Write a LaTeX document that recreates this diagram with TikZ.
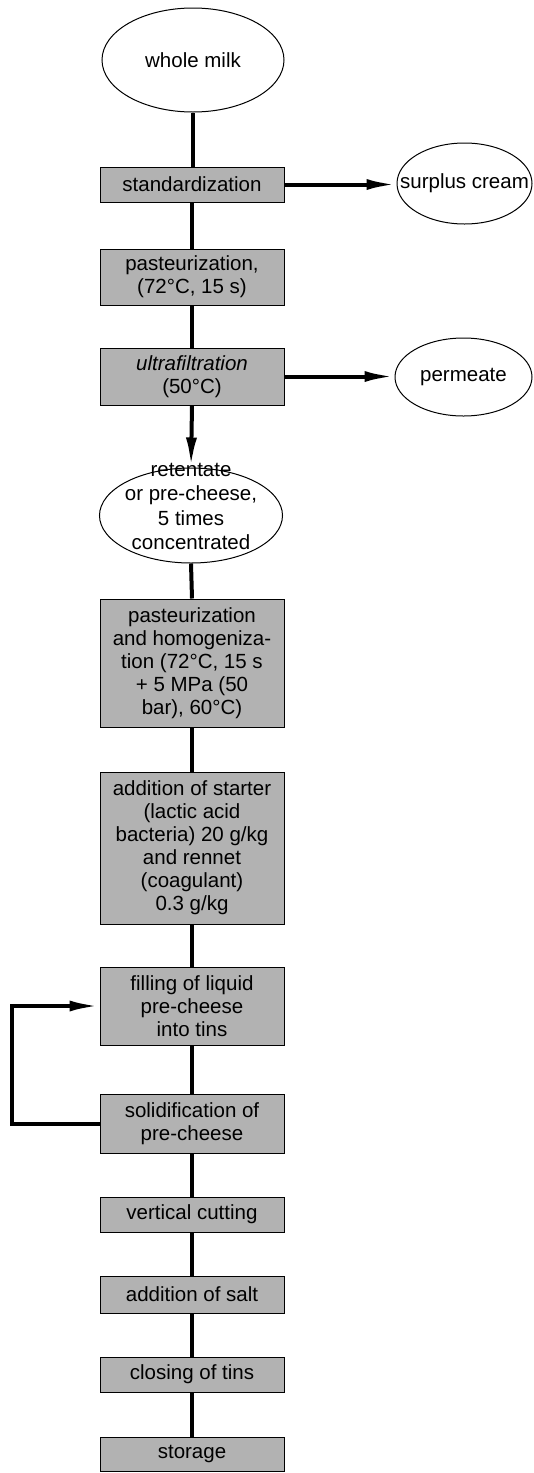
\documentclass[tikz,border=0pt]{standalone}
\usepackage{fontspec}
\setmainfont{Liberation Sans}
\usetikzlibrary{shapes.geometric,arrows.meta}
\begin{document}
\begin{tikzpicture}[x=1pt,y=-1pt,
  every node/.style={font=\fontsize{20.5}{23}\selectfont},
  stepbox/.style={draw, line width=1pt, fill=black!30, minimum width=184pt, inner sep=0pt, align=center},
  term/.style={ellipse, draw, line width=1pt, fill=white, inner sep=0pt},
  flow/.style={line width=4pt},
  flowarrow/.style={flow, -{Latex[length=30pt,width=11pt]}},
]
\useasboundingbox (0,0) rectangle (533,1473);

% main line of process steps
\node[term, minimum width=182pt, minimum height=104pt, label={center:whole milk}] (milk) at (193,60) {};
\node[stepbox, minimum height=35pt] (std) at (192,184.5) {standardization};
\node[term, minimum width=135pt, minimum height=81pt, label={center:surplus cream}] (cream) at (464.5,183.5) {};
\node[stepbox, minimum height=56pt] (past) at (192,277) {pasteurization,\\(72°C, 15 s)};
\node[stepbox, minimum height=57pt] (uf) at (192,376.5) {{\itshape ultrafiltration}\\(50°C)};
\node[term, minimum width=137pt, minimum height=78pt, label={center:permeate}] (perm) at (463.5,377) {};
\node[term, minimum width=183pt, minimum height=95pt,
  label={[align=center, yshift=9pt, font=\fontsize{20.5}{24.5}\selectfont]center:{retentate\\or pre-cheese,\\5 times\\concentrated}}] (ret) at (191,515.5) {};
\node[stepbox, minimum height=128pt] (ph) at (192,663) {pasteurization\\and homogeniza-\\tion (72°C, 15 s\\+ 5 MPa (50\\bar), 60°C)};
\node[stepbox, minimum height=152pt] (add) at (192,848) {addition of starter\\(lactic acid\\bacteria) 20 g/kg\\and rennet\\(coagulant)\\0.3 g/kg};
\node[stepbox, minimum height=78pt] (fill) at (192,1006) {filling of liquid\\pre-cheese\\into tins};
\node[stepbox, minimum height=59pt] (sol) at (192,1123.5) {solidification of\\pre-cheese};
\node[stepbox, minimum height=35pt] (vc) at (192,1214.5) {vertical cutting};
\node[stepbox, minimum height=37pt] (salt) at (192,1294.5) {addition of salt};
\node[stepbox, minimum height=35pt] (close) at (192,1374.5) {closing of tins};
\node[stepbox, minimum height=34pt] (store) at (192,1454) {storage};

% connectors
\draw[flow] (milk.south) -- (milk.south |- std.north);
\draw[flow] (std.south) -- (past.north);
\draw[flow] (past.south) -- (uf.north);
\draw[flowarrow] (std.east) -- (std.east -| cream.west);
\draw[flowarrow] (uf.east) -- (uf.east -| perm.west);
\draw[flowarrow] (uf.south) -- (ret.north);
\draw[flow] (ret.south) -- (ph.north);
\draw[flow] (ph.south) -- (add.north);
\draw[flow] (add.south) -- (fill.north);
\draw[flow] (fill.south) -- (sol.north);
\draw[flowarrow] (sol.west) -- ++(-88,0) |- (fill.west);
\draw[flow] (sol.south) -- (vc.north);
\draw[flow] (vc.south) -- (salt.north);
\draw[flow] (salt.south) -- (close.north);
\draw[flow] (close.south) -- (store.north);
\end{tikzpicture}
\end{document}
